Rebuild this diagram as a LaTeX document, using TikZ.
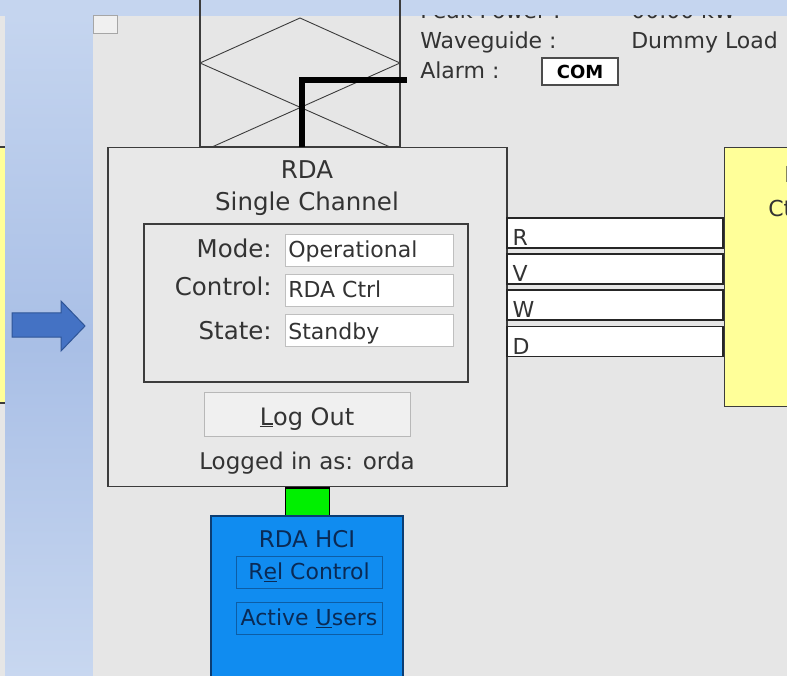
\documentclass[tikz,border=0pt]{standalone}
\usepackage{fontspec}
\setmainfont{DejaVu Sans}
\usepackage{xcolor}
\usepackage{tikz}
\usetikzlibrary{calc}
\usetikzlibrary{positioning}

\definecolor{panelgrey}{HTML}{E6E6E6}
\definecolor{boxgrey}{HTML}{E8E8E8}
\definecolor{edgegrey}{HTML}{3C3C3C}
\definecolor{txtgrey}{HTML}{333333}
\definecolor{slideblue}{HTML}{C5D5EF}
\definecolor{slidemid}{HTML}{A9BFE6}
\definecolor{arrowblue}{HTML}{4472C4}
\definecolor{arrowedge}{HTML}{2F5597}
\definecolor{hciblue}{HTML}{108CF0}
\definecolor{hciedge}{HTML}{0B3D73}
\definecolor{hcitext}{HTML}{0A2A55}
\definecolor{linkgreen}{HTML}{00F000}
\definecolor{ctrlyellow}{HTML}{FFFF99}

\begin{document}
\begin{tikzpicture}[x=1pt,y=-1pt,semithick,font=\fontsize{22}{26}\selectfont,text=txtgrey]
  \tikzstyle{panel}=[draw=edgegrey, line width=1.6pt, fill=boxgrey]
  \tikzstyle{field}=[draw=black!25, fill=white, line width=0.8pt, minimum width=168pt, minimum height=32pt, inner sep=0pt]
  \tikzstyle{lbl}=[anchor=base east, inner sep=0pt, font=\fontsize{24.5}{28}\selectfont]
  \tikzstyle{val}=[anchor=base west, inner sep=0pt]
  \tikzstyle{big}=[anchor=base, inner sep=0pt, font=\fontsize{24.5}{28}\selectfont]
  \tikzstyle{bar}=[draw=black!85, fill=white, line width=1.4pt, minimum width=216pt, minimum height=30pt, inner sep=0pt]
  \tikzstyle{hcibtn}=[draw=hciedge!60!hciblue, line width=0.8pt, minimum width=146pt, minimum height=32pt, inner sep=0pt, text=hcitext]

  \useasboundingbox (0,0) rectangle (787,676);
  \clip (0,0) rectangle (787,676);

  % slide background
  \fill[panelgrey] (0,16) rectangle (5,676);
  \fill[ctrlyellow] (0,147) rectangle (5,403);
  \draw[edgegrey, line width=1.2pt] (0,147) -- (5,147) (0,403) -- (5,403);
  \shade[top color=slideblue, bottom color=slideblue!95!white, middle color=slidemid] (5,16) rectangle (93,676);
  \fill[slideblue] (0,0) rectangle (787,16);
  \fill[panelgrey] (93,16) rectangle (787,676);
  \draw[black!35, line width=1pt, fill=panelgrey!60!white] (93,16) rectangle (117,34);

  % arrow into the screenshot
  \draw[arrowedge, fill=arrowblue, line width=1pt, line join=miter]
    (12,313) -- (61,313) -- (61,301) -- (85,326) -- (61,351) -- (61,337) -- (12,337) -- cycle;

  % waveguide switch
  \node[draw=edgegrey, line width=1.2pt, minimum width=200pt, minimum height=150pt, inner sep=0pt] (wg) at (300,72) {};
  \draw[edgegrey, line width=0.9pt] (200,63) -- (300,18) -- (400,63);
  \draw[edgegrey, line width=0.9pt] (200,63) -- (390,147);
  \draw[edgegrey, line width=0.9pt] (400,63) -- (212,147);

  % status texts
  \begin{scope}
    \clip (93,16) rectangle (787,676);
    \node[val] (pwr) at (420,19) {Peak Power :};
    \node[val] (pwrval) at (631,19) {00.00 kW};
  \end{scope}
  \node[val] (wgtxt) at (420,49) {Waveguide :};
  \node[val] (wgval) at (631,49) {Dummy Load};
  \node[val] (alarm) at (420,79) {Alarm :};
  \node[draw=black!70, fill=white, line width=1.2pt, minimum width=76pt, minimum height=27pt, inner sep=0pt,
        font=\fontsize{18}{20}\selectfont\bfseries, text=black] (com) at (580,71.5) {COM};

  % RDA box
  \node[panel, minimum width=399pt, minimum height=339pt, inner sep=0pt] (rda) at (307.5,317) {};
  \node[big] (rdaname) at (307,179) {RDA};
  \node[big] (rdakind) at (307,211) {Single Channel};
  \node[draw=edgegrey, line width=1.4pt, minimum width=324pt, minimum height=158pt, inner sep=0pt] (inner) at (306,303) {};
  \node[lbl] (mode) at (272,258) {Mode:};
  \node[lbl] (ctrl) at (272,296) {Control:};
  \node[lbl] (state) at (272,339) {State:};
  \node[field] (modef) at (369,250) {};
  \node[field] (ctrlf) at (369,290) {};
  \node[field] (statef) at (369,330.5) {};
  \node[val] at (288,258) {Operational};
  \node[val] at (288,298) {RDA Ctrl};
  \node[val] at (288,339) {Standby};
  \node[draw=black!28, fill=panelgrey!60!white, line width=0.8pt, minimum width=206pt, minimum height=44pt, inner sep=0pt] (logout) at (307,414) {};
  \node[anchor=base, inner sep=0pt, font=\fontsize{24}{28}\selectfont] at (307,425) {\underline{L}og Out};
  \node[anchor=base, inner sep=0pt, font=\fontsize{23}{27}\selectfont] (who) at (307,469) {Logged in as: orda};

  % alarm feed
  \coordinate (tap) at (302,147);
  \coordinate (alarmpt) at (407,80);
  \draw[black, line width=6pt] (tap) |- (alarmpt);

  % moment lines
  \foreach \m/\y in {R/233,V/269,W/305,D/341.5}{
    \node[bar] (bar\m) at (615,\y) {};
    \node[anchor=base west, inner sep=0pt] at ($(bar\m.south west)+(6,-3)$) {\m};
  }

  % control box on the right
  \node[draw=edgegrey, line width=1.2pt, fill=ctrlyellow, minimum width=200pt, minimum height=259pt, inner sep=0pt, anchor=north west] (rpg) at (724,147) {};
  \node[val, text=black!80] at (784,183) {RPG};
  \node[val, text=black!80] at (768,217) {Ctrl};

  % HCI
  \node[draw=black, fill=linkgreen, line width=1.4pt, minimum width=44pt, minimum height=28pt, inner sep=0pt, below=0pt of rda.south] (link) {};
  \node[draw=hciedge, fill=hciblue, line width=1.6pt, minimum width=192pt, minimum height=200pt, inner sep=0pt, anchor=north] (hci) at (307,515) {};
  \node[anchor=base, inner sep=0pt, text=hcitext, font=\fontsize{23}{27}\selectfont] at (307,547) {RDA HCI};
  \node[hcibtn] (rel) at (309,572) {R\underline{e}l Control};
  \node[hcibtn] (users) at (309,618.5) {Active \underline{U}sers};
\end{tikzpicture}
\end{document}
